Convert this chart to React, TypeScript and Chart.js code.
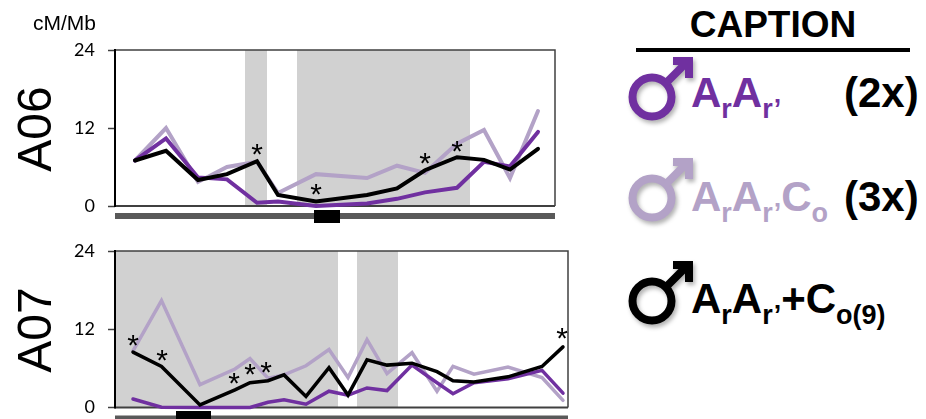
import React, { useEffect, useRef } from "react";
import { Chart, registerables } from "chart.js";

Chart.register(...registerables);

// Positions along each chromosome (Mb-like axis units)
const a06Positions = [2.0, 5.1, 8.3, 11.2, 14.2, 16.3, 20.1, 25.2, 28.2, 31.0, 34.2, 36.9, 39.5, 42.3];
const a06Purple = [7.0, 10.4, 4.4, 4.1, 0.5, 0.7, 0.0, 0.4, 1.1, 2.1, 2.8, 6.8, 6.1, 11.4];
const a06Light = [7.0, 12.0, 3.7, 6.0, 6.8, 2.0, 4.9, 4.3, 6.2, 5.1, 9.6, 11.7, 4.3, 14.6];
const a06Black = [7.0, 8.5, 4.0, 4.9, 6.9, 1.7, 0.7, 1.7, 2.7, 5.5, 7.5, 7.1, 5.6, 8.8];
const a06StarX = [14.2, 20.1, 31.0, 34.2];
const a06StarY = [8.6, 2.5, 7.2, 9.1];
const a06Bands = [[13.0, 15.2], [18.2, 35.5]];
const a06Centromere = [19.9, 22.5];
const a06Max = 44;

const a07Positions = [1.8, 4.65, 8.5, 12.0, 13.5, 15.3, 16.9, 19.1, 21.4, 23.3, 25.2, 27.2, 29.7, 32.2, 33.8, 35.9, 39.3, 42.7, 44.8];
const a07Purple = [1.3, 0.05, 0.0, 0.0, 0.0, 0.8, 1.2, 0.5, 2.5, 1.9, 3.0, 2.6, 6.5, 3.8, 2.1, 3.8, 4.4, 5.7, 2.2];
const a07Light = [8.7, 16.4, 3.5, 5.9, 7.5, 4.5, 5.0, 6.4, 8.9, 4.6, 10.4, 5.2, 8.4, 2.5, 6.3, 5.1, 6.2, 4.6, 1.1];
const a07Black = [8.5, 6.3, 0.4, 2.7, 3.8, 4.1, 5.0, 1.7, 6.1, 1.9, 7.3, 6.5, 6.8, 5.5, 4.1, 3.9, 4.7, 6.3, 9.3];
const a07StarX = [1.8, 4.7, 11.9, 13.5, 15.1, 44.7];
const a07StarY = [10.3, 7.9, 4.4, 5.8, 6.1, 11.3];
const a07Bands = [[0, 22.3], [24.2, 28.3]];
const a07Centromere = [6.1, 9.6];
const a07Max = 45.3;

const yTicks = [0, 12, 24];
const PURPLE = "#7030A0";
const LIGHT = "#B3A2C7";
const BLACK = "#000000";
const BAND = "#D1D1D1";

type PanelProps = {
  top: number;
  height: number;
  padTop: number;
  padBottom: number;
  padRight: number;
  xMax: number;
  positions: number[];
  purple: number[];
  light: number[];
  black: number[];
  starX: number[];
  starY: number[];
  bands: number[][];
  centromere: number[];
  barTop: number;
  barHeight: number;
  cenTop: number;
  cenHeight: number;
  lineW: number;
};

function Panel(p: PanelProps) {
  const ref = useRef<HTMLCanvasElement>(null);
  useEffect(() => {
    const decor = {
      id: "decor",
      beforeDatasetsDraw(chart: any) {
        const { ctx, chartArea: a, scales } = chart;
        ctx.save();
        ctx.fillStyle = BAND;
        p.bands.forEach(([s, e]) => {
          const x0 = scales.x.getPixelForValue(s);
          const x1 = scales.x.getPixelForValue(e);
          ctx.fillRect(x0, a.top, x1 - x0, a.bottom - a.top);
        });
        // frame
        ctx.strokeStyle = "#404040";
        ctx.lineWidth = 1.5;
        ctx.beginPath();
        ctx.moveTo(a.left, a.top);
        ctx.lineTo(a.right, a.top);
        ctx.lineTo(a.right, a.bottom);
        ctx.stroke();
        ctx.lineWidth = 2;
        ctx.beginPath();
        ctx.moveTo(a.left, a.bottom);
        ctx.lineTo(a.right, a.bottom);
        ctx.stroke();
        ctx.strokeStyle = "#000000";
        ctx.beginPath();
        ctx.moveTo(a.left, a.top - 1);
        ctx.lineTo(a.left, a.bottom + 1);
        ctx.stroke();
        ctx.restore();
      },
      afterDraw(chart: any) {
        const { ctx, chartArea: a, scales } = chart;
        ctx.save();
        // chromosome bar and centromere
        ctx.fillStyle = "#595959";
        ctx.fillRect(a.left, p.barTop, a.right - a.left, p.barHeight);
        const c0 = scales.x.getPixelForValue(p.centromere[0]);
        const c1 = scales.x.getPixelForValue(p.centromere[1]);
        ctx.fillStyle = "#000000";
        ctx.fillRect(c0, p.cenTop, c1 - c0, p.cenHeight);
        // significance asterisks
        ctx.font = "30px 'Liberation Sans'";
        ctx.textAlign = "center";
        ctx.textBaseline = "middle";
        p.starX.forEach((x, i) => {
          ctx.fillText("*", scales.x.getPixelForValue(x), scales.y.getPixelForValue(p.starY[i]) + 6);
        });
        ctx.restore();
      },
    };

    const toPts = (vals: number[]) => vals.map((y, i) => ({ x: p.positions[i], y }));
    const line = (label: string, vals: number[], color: string, w: number) => ({
      label,
      data: toPts(vals),
      borderColor: color,
      backgroundColor: color,
      borderWidth: w,
      pointRadius: 0,
      tension: 0,
      clip: false as const,
      borderJoinStyle: "miter" as const,
      borderCapStyle: "round" as const,
    });

    const chart = new Chart(ref.current as HTMLCanvasElement, {
      type: "line",
      data: {
        datasets: [
          line("ArAr'+Co(9)", p.black, BLACK, p.lineW),
          line("ArAr' (2x)", p.purple, PURPLE, p.lineW),
          line("ArAr'Co (3x)", p.light, LIGHT, p.lineW),
        ],
      },
      options: {
        animation: false,
        responsive: false,
        maintainAspectRatio: false,
        layout: { padding: { left: 65, right: p.padRight, top: p.padTop, bottom: p.padBottom } },
        plugins: { legend: { display: false }, tooltip: { enabled: false }, title: { display: false } },
        scales: {
          x: { type: "linear", display: false, min: 0, max: p.xMax },
          y: {
            type: "linear",
            min: 0,
            max: 24,
            afterFit(scale: any) {
              scale.width = 50;
              scale.paddingTop = 0;
              scale.paddingBottom = 0;
            },
            afterBuildTicks(scale: any) {
              scale.ticks = yTicks.map((value) => ({ value }));
            },
            grid: { drawOnChartArea: false, tickLength: 7, tickColor: "#404040", tickWidth: 1.5 },
            border: { display: false },
            ticks: {
              color: "#000000",
              padding: 13,
              font: { family: "Lato", size: 18 },
              autoSkip: false,
            },
          },
        },
      },
      plugins: [decor],
    } as any);
    return () => chart.destroy();
  }, []);
  return (
    <canvas
      ref={ref}
      width={600}
      height={p.height}
      style={{ position: "absolute", left: 0, top: p.top, width: 600, height: p.height }}
    />
  );
}

function Male({ color, dy }: { color: string; dy: number }) {
  return (
    <svg
      width={80}
      height={80}
      viewBox="0 0 80 80"
      style={{
        position: "absolute",
        left: 622,
        top: 52 + dy,
        overflow: "visible",
        filter: "drop-shadow(2px 3px 2px rgba(0,0,0,0.3))",
      }}
    >
      <circle cx={30} cy={45} r={19.5} fill="none" stroke={color} strokeWidth={8} />
      <line x1={44} y1={31} x2={65} y2={10} stroke={color} strokeWidth={8} />
      <path d="M51 9 H67 V26" fill="none" stroke={color} strokeWidth={8} />
    </svg>
  );
}

const sub = (text: string) => (
  <span style={{ fontSize: 27, verticalAlign: -11, lineHeight: 0 }}>{text}</span>
);

const boldText: React.CSSProperties = {
  position: "absolute",
  fontFamily: "'Liberation Sans'",
  fontWeight: 700,
  fontSize: 42,
  lineHeight: "40px",
  whiteSpace: "nowrap",
};

const sideLabel = (text: string, cy: number) => (
  <div
    style={{
      position: "absolute",
      left: 35 - 60,
      top: cy - 30,
      width: 120,
      height: 60,
      lineHeight: "60px",
      textAlign: "center",
      transform: "rotate(-90deg)",
      fontFamily: "'Liberation Sans'",
      fontSize: 48,
      color: "#000",
    }}
  >
    {text}
  </div>
);

export default function App() {
  return (
    <div style={{ position: "absolute", left: 0, top: 0, width: 926, height: 419, overflow: "hidden", background: "#fff" }}>
      <Panel
        top={0}
        height={230}
        padTop={50}
        padBottom={24}
        padRight={45}
        xMax={a06Max}
        positions={a06Positions}
        purple={a06Purple}
        light={a06Light}
        black={a06Black}
        starX={a06StarX}
        starY={a06StarY}
        bands={a06Bands}
        centromere={a06Centromere}
        barTop={213}
        barHeight={6}
        cenTop={210}
        cenHeight={13}
        lineW={4}
      />
      <Panel
        top={230}
        height={189}
        padTop={21}
        padBottom={11.5}
        padRight={32}
        xMax={a07Max}
        positions={a07Positions}
        purple={a07Purple}
        light={a07Light}
        black={a07Black}
        starX={a07StarX}
        starY={a07StarY}
        bands={a07Bands}
        centromere={a07Centromere}
        barTop={185.5}
        barHeight={4}
        cenTop={181}
        cenHeight={8}
        lineW={3.5}
      />
      <div style={{ position: "absolute", left: 33, top: 12, fontFamily: "'Liberation Sans'", fontSize: 21, lineHeight: "22px", color: "#000" }}>
        cM/Mb
      </div>
      {sideLabel("A06", 128.5)}
      {sideLabel("A07", 330)}

      <div style={{ ...boldText, left: 636, width: 274, textAlign: "center", top: 7, fontSize: 37, lineHeight: "36px", color: "#000" }}>
        CAPTION
      </div>
      <div style={{ position: "absolute", left: 636, top: 48, width: 274, height: 4, background: "#000" }} />

      <Male color={PURPLE} dy={0} />
      <Male color={LIGHT} dy={101} />
      <Male color={BLACK} dy={204} />

      <div style={{ ...boldText, left: 691, top: 73, color: PURPLE }}>
        A{sub("r")}A{sub("r’")}
      </div>
      <div style={{ ...boldText, left: 844, top: 73, color: "#000" }}>(2x)</div>

      <div style={{ ...boldText, left: 691, top: 177, color: LIGHT }}>
        A{sub("r")}A{sub("r’")}C{sub("o")}
      </div>
      <div style={{ ...boldText, left: 844, top: 177, color: "#000" }}>(3x)</div>

      <div style={{ ...boldText, left: 691, top: 279, color: "#000" }}>
        A{sub("r")}A{sub("r’")}+C{sub("o(9)")}
      </div>
    </div>
  );
}
